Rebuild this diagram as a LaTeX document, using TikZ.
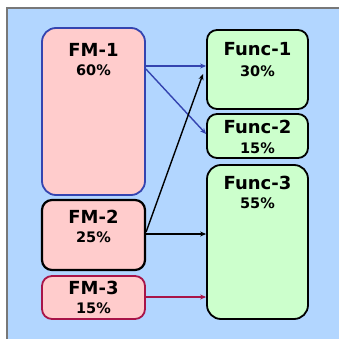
\documentclass[tikz,border=0pt]{standalone}
\usepackage{fontspec}
\setmainfont{DejaVu Sans}
\usetikzlibrary{arrows.meta}
\definecolor{bgblue}{RGB}{178,214,255}
\definecolor{pinkfill}{RGB}{255,204,204}
\definecolor{greenfill}{RGB}{204,255,204}
\definecolor{fmblue}{RGB}{52,68,176}
\definecolor{fmred}{RGB}{168,20,72}
\definecolor{edgegray}{RGB}{120,120,120}
\begin{document}
\begin{tikzpicture}[x=1pt,y=-1pt,
  box/.style={rectangle,rounded corners=10pt,line width=1.8pt,inner sep=0pt},
  fmbox/.style={box,fill=pinkfill,minimum width=103pt},
  fnbox/.style={box,fill=greenfill,draw=black,minimum width=101pt},
  ttl/.style={font=\bfseries\fontsize{18}{20}\selectfont,inner sep=0pt},
  pct/.style={font=\bfseries\fontsize{14.5}{17}\selectfont,inner sep=0pt},
  arr/.style={-{Stealth[length=6pt,width=5pt]},line width=1.4pt}]
\useasboundingbox (0,0) rectangle (339,339);
\fill[white] (0,0) rectangle (339,339);
\fill[bgblue] (7,8) rectangle (339,339);
\draw[edgegray,line width=1.2pt] (7,339) -- (7,8) -- (339,8);
% FM boxes
\node[fmbox,draw=fmblue,minimum height=167pt,rounded corners=14pt] (fm1) at (93.5,111.5) {};
\node[fmbox,draw=black,line width=2.2pt,minimum height=70pt] (fm2) at (93.5,235) {};
\node[fmbox,draw=fmred,minimum height=43pt] (fm3) at (93.5,297.5) {};
% Func boxes
\node[fnbox,minimum height=79pt] (fn1) at (257.5,69.5) {};
\node[fnbox,minimum height=44pt] (fn2) at (257.5,136) {};
\node[fnbox,minimum height=154pt,rounded corners=14pt] (fn3) at (257.5,242) {};
% texts
\node[ttl] (fm1a) at (93.5,50) {FM-1};
\node[pct] (fm1b) at (93.5,70) {60\%};
\node[ttl] (fm2a) at (93.5,217) {FM-2};
\node[pct] (fm2b) at (93.5,237) {25\%};
\node[ttl] (fm3a) at (93.5,288) {FM-3};
\node[pct] (fm3b) at (93.5,308) {15\%};
\node[ttl] (fn1a) at (257.5,49) {Func-1};
\node[pct] (fn1b) at (257.5,71) {30\%};
\node[ttl] (fn2a) at (257.5,127) {Func-2};
\node[pct] (fn2b) at (257.5,148) {15\%};
\node[ttl] (fn3a) at (257.5,183) {Func-3};
\node[pct] (fn3b) at (257.5,203) {55\%};
% connectors
\draw[arr,fmblue] (fm1.east |- 0,66) -- (fn1.west |- 0,66);
\draw[arr,fmblue] (fm1.east |- 0,69) -- (fn2.west |- 0,134);
\draw[arr,black] (fm2.east |- 0,232) -- (203,74);
\draw[arr,black] (fm2.east |- 0,234) -- (fn3.west |- 0,234);
\draw[arr,fmred] (fm3.east |- 0,297) -- (fn3.west |- 0,297);
\end{tikzpicture}
\end{document}
